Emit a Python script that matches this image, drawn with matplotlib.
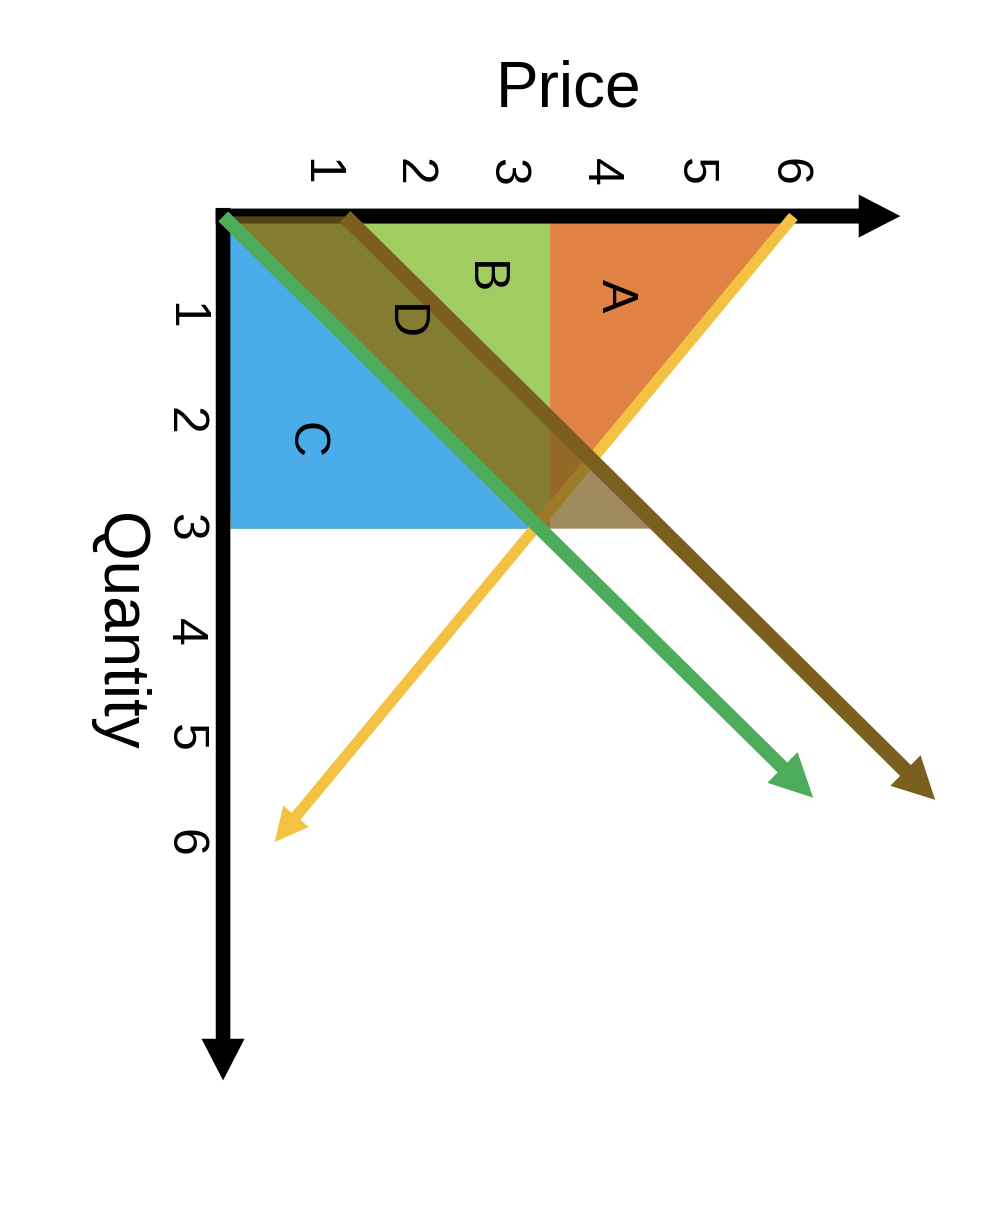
import matplotlib.pyplot as plt
from matplotlib.patches import Polygon, FancyArrowPatch

plt.rcParams['font.family'] = ['Liberation Sans', 'DejaVu Sans']

# values are (price, quantity); price runs right, quantity runs down
price_ticks = [1, 2, 3, 4, 5, 6]
quantity_ticks = [1, 2, 3, 4, 5, 6]

supply_line = [(6.06, 0.06), (0.53, 5.99)]      # yellow
demand_line = [(-0.02, 0.06), (6.27, 5.57)]     # green
demand_new = [(1.28, 0.06), (7.57, 5.59)]       # brown

area_a = [(3.465, 0.06), (6.06, 0.06), (3.465, 2.84)]
area_b = [(-0.02, 0.06), (3.465, 0.06), (3.465, 3.02), (-0.02, 3.02)]
area_c = [(-0.02, 0.06), (0.06, 3.02), (3.36, 3.02)]
area_d = [(-0.02, 0.06), (1.28, 0.06), (4.65, 3.02), (3.36, 3.02)]

area_names = ['A', 'B', 'C', 'D']
area_label_pos = [(4.16, 0.81), (2.75, 0.64), (0.85, 2.18), (1.90, 1.06)]

price_axis = [(-0.10, 0.057), (7.20, 0.057)]
quantity_axis = [(-0.021, -0.02), (-0.021, 8.25)]


def arrow(ax, line, color, tail, head_len, head_w, z):
    style = "simple,head_length=%g,head_width=%g,tail_width=%g" % (head_len, head_w, tail)
    ax.add_patch(FancyArrowPatch(line[0], line[1], arrowstyle=style, mutation_scale=1,
                                 lw=0, color=color, shrinkA=0, shrinkB=0, zorder=z))


fig = plt.figure(figsize=(10, 12.2), dpi=100)
ax = fig.add_axes([0, 0, 1, 1])
ax.set_xlim(-2.399, 8.262)
ax.set_ylim(9.573, -1.991)
ax.axis('off')

ax.add_patch(Polygon(area_b, closed=True, color='#A1CC62', lw=0, zorder=1))
ax.add_patch(Polygon(area_c, closed=True, color='#4AACE8', lw=0, zorder=1.1))
ax.add_patch(Polygon(area_a, closed=True, color='#E08244', lw=0, zorder=1.2))

arrow(ax, price_axis, 'black', 10.8, 30, 31, 2)
arrow(ax, quantity_axis, 'black', 10.5, 30, 31, 2)

arrow(ax, supply_line, '#F4C242', 8.0, 24, 24, 3)
ax.add_patch(Polygon(area_d, closed=True, color='#7A5F1E', alpha=0.72, lw=0, zorder=4))
arrow(ax, demand_line, '#4DAC5B', 10.0, 31, 31, 5)
arrow(ax, demand_new, '#7A5F1E', 11.0, 30, 31, 6)

for name, (p, q) in zip(area_names, area_label_pos):
    ax.text(p, q, name, rotation=-90, ha='center', va='center', fontsize=36, zorder=7)

for p in price_ticks:
    ax.text(p, -0.36, str(p), rotation=-90, ha='center', va='center', fontsize=36)
for q in quantity_ticks:
    ax.text(-0.44, q, str(q), rotation=-90, ha='center', va='center', fontsize=36)

ax.text(3.66, -1.14, 'Price', ha='center', va='center', fontsize=46)
ax.text(-1.14, 4.0, 'Quantity', rotation=-90, ha='center', va='center', fontsize=46)

fig.savefig('out.png', dpi=100)
